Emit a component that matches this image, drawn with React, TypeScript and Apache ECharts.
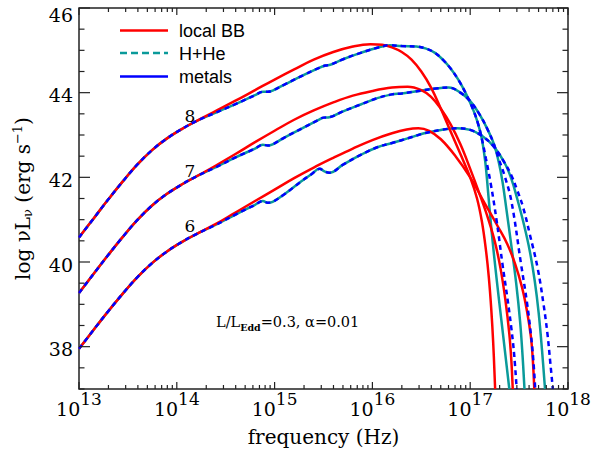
import React, { useEffect, useRef } from 'react';
import * as echarts from 'echarts';

// ---------- axis / label values ----------
const X_MIN = 1e13;
const X_MAX = 1e18;
const Y_MIN = 37;
const Y_MAX = 46;
const xTickExponents = [13, 14, 15, 16, 17, 18];
const yTickLabels = [38, 40, 42, 44, 46];
const modelLabels = ['8', '7', '6'];
const legendNames = ['local BB', 'H+He', 'metals'];

// ---------- data: [log10 frequency (Hz), log nuL_nu] ----------
// shared low-frequency part (all three spectra of a model coincide)
const lowLogNu = [13.0, 13.15, 13.3, 13.45, 13.6, 13.75, 13.9, 14.05, 14.2];
const low8 = [40.58, 41.03, 41.48, 41.91, 42.31, 42.65, 42.92, 43.14, 43.33];
const low7 = [39.27, 39.72, 40.17, 40.6, 41.0, 41.34, 41.61, 41.83, 42.02];
const low6 = [37.95, 38.4, 38.84, 39.26, 39.65, 39.98, 40.25, 40.47, 40.66];

// local black body
const red8 = [[14.4, 43.57], [14.6, 43.81], [14.8, 44.06], [15.0, 44.31], [15.2, 44.55], [15.4, 44.78], [15.6, 44.96], [15.8, 45.09], [15.98, 45.145], [16.1, 45.13], [16.2, 45.07], [16.3, 44.96], [16.4, 44.78], [16.5, 44.5], [16.6, 44.12], [16.7, 43.62], [16.8, 43.08], [16.9, 42.55], [17.0, 42.0], [17.07, 41.5], [17.12, 40.95], [17.16, 40.3], [17.19, 39.65], [17.215, 38.9], [17.235, 38.1], [17.255, 37.0]];
const red7 = [[14.4, 42.28], [14.6, 42.55], [14.8, 42.83], [15.0, 43.1], [15.2, 43.36], [15.4, 43.58], [15.6, 43.77], [15.8, 43.93], [16.0, 44.04], [16.2, 44.12], [16.36, 44.14], [16.5, 44.06], [16.6, 43.9], [16.7, 43.62], [16.8, 43.25], [16.9, 42.78], [17.0, 42.2], [17.1, 41.58], [17.18, 41.05], [17.25, 40.5], [17.31, 39.85], [17.36, 39.1], [17.4, 38.3], [17.42, 37.7], [17.435, 37.0]];
const red6 = [[14.4, 40.9], [14.6, 41.17], [14.8, 41.44], [15.0, 41.71], [15.2, 41.98], [15.4, 42.23], [15.6, 42.46], [15.8, 42.68], [16.0, 42.88], [16.2, 43.04], [16.35, 43.13], [16.47, 43.16], [16.58, 43.1], [16.7, 42.9], [16.85, 42.5], [17.0, 42.0], [17.15, 41.38], [17.28, 40.85], [17.38, 40.42], [17.46, 39.95], [17.53, 39.4], [17.58, 38.85], [17.62, 38.25], [17.64, 37.7], [17.655, 37.0]];

// H+He atmosphere
const teal8 = [[14.4, 43.53], [14.6, 43.73], [14.8, 43.94], [14.88, 44.02], [14.93, 44.02], [14.98, 44.05], [15.1, 44.19], [15.3, 44.42], [15.45, 44.58], [15.52, 44.64], [15.57, 44.66], [15.7, 44.79], [15.88, 44.94], [16.05, 45.06], [16.18, 45.12], [16.3, 45.1], [16.45, 45.09], [16.55, 45.04], [16.64, 44.94], [16.72, 44.78], [16.8, 44.57], [16.88, 44.3], [16.96, 43.96], [17.03, 43.6], [17.08, 43.27], [17.12, 42.9], [17.155, 42.35], [17.185, 41.6], [17.22, 40.7], [17.27, 39.6], [17.32, 38.6], [17.36, 37.8], [17.4, 37.0]];
const teal7 = [[14.4, 42.24], [14.6, 42.47], [14.8, 42.68], [14.88, 42.77], [14.93, 42.75], [14.98, 42.78], [15.1, 42.94], [15.3, 43.18], [15.45, 43.36], [15.5, 43.41], [15.56, 43.42], [15.7, 43.56], [15.88, 43.72], [16.05, 43.87], [16.2, 43.96], [16.3, 43.98], [16.5, 44.05], [16.65, 44.1], [16.78, 44.12], [16.9, 44.0], [17.0, 43.8], [17.1, 43.47], [17.18, 43.12], [17.24, 42.8], [17.29, 42.38], [17.33, 41.9], [17.37, 41.25], [17.42, 40.4], [17.47, 39.5], [17.51, 38.6], [17.535, 37.8], [17.555, 37.0]];
const teal6 = [[14.4, 40.88], [14.6, 41.12], [14.8, 41.35], [14.88, 41.44], [14.93, 41.4], [14.98, 41.42], [15.1, 41.6], [15.27, 41.9], [15.38, 42.08], [15.46, 42.2], [15.51, 42.14], [15.56, 42.11], [15.7, 42.3], [15.88, 42.53], [16.05, 42.71], [16.2, 42.81], [16.36, 42.92], [16.53, 43.04], [16.7, 43.12], [16.87, 43.16], [17.0, 43.12], [17.12, 42.98], [17.24, 42.73], [17.35, 42.35], [17.42, 41.97], [17.48, 41.5], [17.55, 40.88], [17.61, 40.25], [17.66, 39.55], [17.7, 38.8], [17.735, 37.9], [17.765, 37.0]];

// metals: identical to H+He up to the branch point, then these tails
const branch8 = 17.12;
const branch7 = 17.24;
const branch6 = 17.35;
const blueTail8 = [[17.16, 42.45], [17.21, 41.85], [17.27, 40.98], [17.33, 39.95], [17.38, 39.15], [17.42, 38.45], [17.45, 37.8], [17.475, 37.0]];
const blueTail7 = [[17.29, 42.45], [17.35, 42.05], [17.42, 41.45], [17.52, 39.95], [17.58, 39.05], [17.62, 38.3], [17.645, 37.7], [17.665, 37.0]];
const blueTail6 = [[17.42, 42.05], [17.48, 41.7], [17.54, 41.3], [17.61, 40.65], [17.69, 39.85], [17.75, 39.0], [17.79, 38.3], [17.82, 37.6], [17.845, 37.0]];

// ---------- styling ----------
const RED = '#ff0000';
const TEAL = '#0a9a9a';
const BLUE = '#0000ff';
const FRAME = '#222222';
const SERIF = 'DejaVu Serif';
const SANS = 'Liberation Sans';

const toHz = (pts: number[][]) => pts.map(([x, y]) => [Math.pow(10, x), y]);
const lowPts = (low: number[]) => lowLogNu.map((x, i) => [x, low[i]]);

function buildSeries() {
  const models = [
    { low: low8, red: red8, teal: teal8, branch: branch8, tail: blueTail8 },
    { low: low7, red: red7, teal: teal7, branch: branch7, tail: blueTail7 },
    { low: low6, red: red6, teal: teal6, branch: branch6, tail: blueTail6 },
  ];
  const series: any[] = [];
  const common = {
    type: 'line',
    showSymbol: false,
    symbol: 'none',
    smooth: 0.4,
    clip: true,
    silent: true,
  };
  models.forEach((m, i) => {
    const tealData = toHz([...lowPts(m.low), ...m.teal]);
    const redData = toHz([...lowPts(m.low), ...m.red]);
    const blueData = toHz([
      ...lowPts(m.low),
      ...m.teal.filter((p) => p[0] <= m.branch),
      ...m.tail,
    ]);
    series.push({ ...common, name: 'H+He ' + modelLabels[i], z: 2, data: tealData, lineStyle: { color: TEAL, width: 2.5 } });
    series.push({ ...common, name: 'local BB ' + modelLabels[i], z: 3, data: redData, lineStyle: { color: RED, width: 2.5 } });
    series.push({ ...common, name: 'metals ' + modelLabels[i], z: 4, data: blueData, lineStyle: { color: BLUE, width: 2.5, type: [5, 4] } });
  });
  return series;
}

// tick marks (drawn inside the frame on all four sides)
function tickData() {
  const xt: number[][] = [];
  for (let e = 13; e < 18; e++) {
    xt.push([Math.pow(10, e), 7]);
    for (let k = 2; k <= 9; k++) xt.push([k * Math.pow(10, e), 4]);
  }
  xt.push([1e18, 7]);
  const yt: number[][] = [];
  for (let v = Y_MIN; v <= Y_MAX + 1e-9; v += 0.5) {
    yt.push([X_MIN, v, yTickLabels.indexOf(v) >= 0 ? 11 : 5.5]);
  }
  return { xt, yt };
}

export default function App() {
  const ref = useRef<HTMLDivElement>(null);
  useEffect(() => {
    if (!ref.current) return;
    const chart = echarts.init(ref.current, undefined, { renderer: 'svg' });
    const { xt, yt } = tickData();
    const tickStyle = { stroke: FRAME, lineWidth: 1.2 };

    const option: any = {
      animation: false,
      backgroundColor: '#ffffff',
      grid: {
        left: 79, right: 25, top: 8, bottom: 62,
        outerBoundsMode: 'none',
        containLabel: false,
        show: true, borderColor: FRAME, borderWidth: 1.5, backgroundColor: 'transparent',
      },
      xAxis: {
        type: 'log',
        logBase: 10,
        min: X_MIN,
        max: X_MAX,
        splitNumber: 5,
        axisLine: { show: false },
        axisTick: { show: false },
        splitLine: { show: false },
        minorTick: { show: false },
        axisLabel: {
          margin: 10,
          color: '#000',
          showMinLabel: true,
          showMaxLabel: true,
          formatter: (v: number) => {
            const e = Math.round(Math.log10(v));
            return xTickExponents.indexOf(e) >= 0 ? '{b|10}{s|' + e + '}' : '';
          },
          rich: {
            b: { fontFamily: SERIF, fontSize: 19, lineHeight: 19, color: '#000', verticalAlign: 'middle' },
            s: { fontFamily: SERIF, fontSize: 17, lineHeight: 17, color: '#000', verticalAlign: 'middle', padding: [0, 0, 20, 0] },
          },
        },
        name: 'frequency (Hz)',
        nameLocation: 'middle',
        nameMoveOverlap: false,
        nameGap: 38,
        nameTextStyle: { fontFamily: SERIF, fontSize: 20, color: '#000' },
      },
      yAxis: {
        type: 'value',
        min: Y_MIN,
        max: Y_MAX,
        interval: 1,
        axisLine: { show: false },
        axisTick: { show: false },
        splitLine: { show: false },
        axisLabel: {
          margin: 6,
          color: '#000',
          formatter: (v: number) => {
            if (yTickLabels.indexOf(v) < 0) return '';
            return v === Y_MAX ? '{top|' + v + '}' : '{n|' + v + '}';
          },
          rich: {
            n: { fontFamily: SERIF, fontSize: 19, lineHeight: 19, color: '#000', verticalAlign: 'middle', padding: [5, 0, 0, 0] },
            top: { fontFamily: SERIF, fontSize: 19, lineHeight: 19, color: '#000', verticalAlign: 'middle', padding: [13, 0, 0, 0] },
          },
        },
        name: '{t|log }{t|ν}{t|L}{sub|ν}{t| (erg s}{sup|−1}{t|)}',
        nameLocation: 'middle',
        nameMoveOverlap: false,
        nameRotate: 90,
        nameGap: 45,
        nameTextStyle: {
          fontFamily: SERIF,
          fontSize: 20,
          color: '#000',
          rich: {
            t: { fontFamily: SERIF, fontSize: 20, color: '#000', verticalAlign: 'middle' },
            sub: { fontFamily: SERIF, fontSize: 13, color: '#000', verticalAlign: 'middle', padding: [10, 0, 0, 0] },
            sup: { fontFamily: SERIF, fontSize: 13, color: '#000', verticalAlign: 'middle', padding: [0, 0, 10, 0] },
          },
        },
      },
      series: [
        ...buildSeries(),
        {
          type: 'custom',
          name: 'xticks',
          silent: true,
          z: 10,
          data: xt,
          renderItem: (_p: any, api: any) => {
            const v = api.value(0);
            const len = api.value(1);
            const b = api.coord([v, Y_MIN]);
            const t = api.coord([v, Y_MAX]);
            return {
              type: 'group',
              children: [
                { type: 'line', shape: { x1: b[0], y1: b[1], x2: b[0], y2: b[1] - len }, style: tickStyle },
                { type: 'line', shape: { x1: t[0], y1: t[1], x2: t[0], y2: t[1] + len }, style: tickStyle },
              ],
            };
          },
        },
        {
          type: 'custom',
          name: 'yticks',
          silent: true,
          z: 10,
          data: yt,
          renderItem: (_p: any, api: any) => {
            const v = api.value(1);
            const len = api.value(2);
            const l = api.coord([X_MIN, v]);
            const r = api.coord([X_MAX, v]);
            return {
              type: 'group',
              children: [
                { type: 'line', shape: { x1: l[0], y1: l[1], x2: l[0] + len, y2: l[1] }, style: tickStyle },
                { type: 'line', shape: { x1: r[0], y1: r[1], x2: r[0] - len, y2: r[1] }, style: tickStyle },
              ],
            };
          },
        },
      ],
      graphic: [
        // legend
        { type: 'line', shape: { x1: 120, y1: 30.5, x2: 168, y2: 30.5 }, style: { stroke: RED, lineWidth: 2.5 } },
        { type: 'line', shape: { x1: 120, y1: 53, x2: 168, y2: 53 }, style: { stroke: TEAL, lineWidth: 2.5, lineDash: [7, 4] } },
        { type: 'line', shape: { x1: 120, y1: 76.5, x2: 168, y2: 76.5 }, style: { stroke: BLUE, lineWidth: 2.5 } },
        { type: 'text', x: 179, y: 31, style: { text: legendNames[0], fontFamily: SANS, fontSize: 18, fill: '#000', verticalAlign: 'middle' } },
        { type: 'text', x: 179, y: 53.5, style: { text: legendNames[1], fontFamily: SANS, fontSize: 18, fill: '#000', verticalAlign: 'middle' } },
        { type: 'text', x: 179, y: 77, style: { text: legendNames[2], fontFamily: SANS, fontSize: 18, fill: '#000', verticalAlign: 'middle' } },
        // model labels
        { type: 'text', x: 190, y: 116, style: { text: modelLabels[0], fontFamily: SERIF, fontSize: 17, fill: '#000', align: 'center', verticalAlign: 'middle' } },
        { type: 'text', x: 190, y: 171, style: { text: modelLabels[1], fontFamily: SERIF, fontSize: 17, fill: '#000', align: 'center', verticalAlign: 'middle' } },
        { type: 'text', x: 190, y: 226, style: { text: modelLabels[2], fontFamily: SERIF, fontSize: 17, fill: '#000', align: 'center', verticalAlign: 'middle' } },
        // annotation
        {
          type: 'text',
          x: 216,
          y: 322,
          style: {
            text: '{t|L/L}{e|Edd}{t|=0.3, α=0.01}',
            verticalAlign: 'middle',
            rich: {
              t: { fontFamily: SERIF, fontSize: 14.5, fill: '#000', verticalAlign: 'middle' },
              e: { fontFamily: SERIF, fontSize: 9.5, fontWeight: 'bold', fill: '#000', verticalAlign: 'middle', padding: [10, 0, 0, 0] },
            },
          },
        },
      ],
    };
    chart.setOption(option);
    return () => chart.dispose();
  }, []);
  return <div ref={ref} style={{ position: 'fixed', left: 0, top: 0, width: 593, height: 451, background: '#fff' }} />;
}
